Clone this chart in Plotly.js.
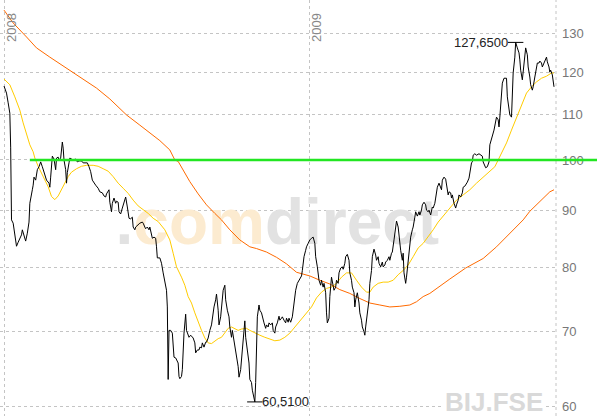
<!DOCTYPE html>
<html><head><meta charset="utf-8">
<script src="https://cdn.plot.ly/plotly-3.0.1.min.js"></script>
<style>html,body{margin:0;padding:0;background:#fff}#chart{width:597px;height:417px}</style>
</head><body><div id="chart"></div>
<script>
// ---- data (day offsets from 2008-01-01, prices) ----
const startDate = '2008-01-01';
const priceDays = [0,3,5,7,8,9,11,13,15,17,19,21,22,24,25,26,28,30,31,32,34,35,36,38,40,42,44,46,47,49,51,54,55,56,57,58,60,62,63,65,66,68,70,71,72,74,75,76,78,79,81,83,86,88,90,93,95,98,100,102,104,106,108,110,113,115,118,120,122,123,126,127,129,130,132,134,135,137,138,140,142,144,146,148,150,152,154,155,157,158,161,163,166,167,169,170,172,174,175,177,178,180,182,183,184,187,
189,191,193,195,196,197,198,200,202,203,204,206,207,209,210,211,213,214,216,218,219,221,222,224,226,227,229,230,232,234,235,237,238,240,242,243,245,246,247,249,250,252,254,255,257,258,260,262,263,265,266,268,270,271,273,274,276,278,279,281,282,284,286,287,289,290,292,294,295,297,298,300,301,302,303,304,306,307,309,310,312,314,315,317,318,320,322,323,325,326,328,330,331,333,334,336,338,339,341,342,344,346,347,349,350,352,354,355,357,358,360,362,363,365,
367,369,371,373,374,376,377,378,380,381,382,383,384,386,387,388,390,391,393,394,396,398,399,401,402,404,406,407,409,410,412,414,415,417,418,420,421,422,424,426,427,429,430,432,433,434,436,438,439,441,442,444,446,447,449,450,452,454,455,457,458,460,462,463,465,466,468,470,471,473,474,476,478,479,480,482,483,485,487,488,490,491,493,494,496,498,499,501,502,504,506,507,509,510,512,514,515,517,518,520,522,523,525,526,528,530,531,533,534,
536,537,538,540,542,543,545,546,548,550,551,553,554,556,558,559,561,562,563,565,567,570,572,574,575,577,578,580,582,583,585,586,588,590,591,593,594,595,597,598,600,602,603,604,606,607,609,610,611,613,614,616,618,619,620,622,623,625,626,628,629,631,632,634,635,637,638,639,640,642,643,645,646,648,650,651,652,654,655,656,658,659,660];
const price = [116.6,114.9,112.6,110.2,102.7,88.3,87.7,85.9,83.6,84.3,85.0,85.6,86.5,85.6,85.2,84.5,85.9,87.9,91.4,92.6,94.0,94.9,96.5,95.9,98.0,98.6,99.6,98.6,98.0,96.9,95.9,95.3,94.5,96.5,99.6,100.8,100.2,98.0,100.4,100.6,100.0,100.4,103.8,102.5,100.0,98.0,95.3,97.4,99.4,100.4,100.2,100.0,100.2,99.6,99.8,99.8,99.4,99.4,99.4,98.6,97.6,95.9,95.3,94.9,94.3,93.6,93.4,92.8,92.6,93.2,94.0,91.6,89.8,91.4,92.4,91.4,91.8,91.6,89.8,89.4,90.5,91.4,92.6,90.7,88.6,88.5,88.8,87.0,86.5,87.0,87.5,87.7,87.9,87.7,87.0,86.7,87.0,86.5,87.0,85.9,85.0,85.2,85.0,83.5,81.6,81.6,
80.7,79.1,77.9,76.3,73.7,63.4,70.2,70.2,69.8,67.4,66.4,66.3,66.0,65.6,63.8,63.5,63.8,64.7,69.8,72.6,70.2,69.5,69.2,69.5,69.2,69.1,68.4,67.0,67.4,67.4,67.8,67.7,68.4,67.8,68.5,68.5,69.1,69.8,70.2,71.0,72.2,73.7,74.8,75.7,73.2,71.0,72.2,74.3,76.3,77.1,74.8,73.2,72.2,70.7,69.2,70.2,68.8,67.4,66.4,65.1,63.7,64.7,67.4,69.2,71.6,69.2,67.4,65.6,63.4,63.0,62.0,61.1,60.51,63.0,67.4,72.2,74.0,73.2,72.8,72.2,71.3,70.5,71.0,70.7,71.3,71.0,71.3,70.2,69.8,70.7,71.3,72.3,71.7,72.0,72.2,71.7,71.3,72.0,71.4,72.0,71.4,72.2,73.2,75.3,76.3,77.4,77.9,78.0,78.6,79.5,81.8,82.9,83.5,84.1,
84.7,85.0,85.2,84.1,81.8,80.1,79.1,77.9,77.1,77.9,77.3,76.8,77.4,75.9,72.8,71.3,72.0,75.3,78.4,77.4,76.3,76.8,77.9,77.4,79.1,79.9,80.1,79.7,80.7,81.8,82.2,81.2,79.1,77.9,76.8,75.9,73.7,74.8,75.9,74.3,72.8,71.7,70.7,70.0,69.5,70.7,72.8,74.8,77.4,79.5,81.8,83.1,82.1,81.2,81.8,80.7,80.1,80.9,80.1,80.4,80.9,81.2,81.8,81.2,82.4,82.6,84.7,87.0,88.1,87.0,85.2,82.9,81.2,82.4,79.1,77.4,78.4,80.7,82.9,85.2,86.5,87.0,88.8,89.8,89.0,89.8,89.2,90.1,91.1,91.6,91.1,90.1,89.8,90.1,89.2,90.7,90.5,91.4,92.4,94.5,95.3,94.9,94.0,95.9,96.5,96.1,95.3,93.0,93.6,
93.4,92.4,93.0,91.4,90.5,91.1,92.0,93.0,92.6,93.4,94.5,94.7,94.9,95.5,96.3,97.4,99.4,99.6,101.0,101.3,101.0,101.3,101.0,100.8,99.6,98.8,98.4,98.6,99.6,103.2,104.9,105.1,106.4,109.1,109.3,108.7,107.1,109.3,114.0,117.3,118.5,118.5,118.5,114.0,110.2,109.8,109.3,114.0,119.8,123.8,127.65,126.2,124.9,123.1,120.5,118.1,120.5,123.6,126.2,124.4,121.3,118.8,116.9,115.6,116.4,118.8,119.8,120.5,122.3,122.3,122.8,122.3,121.3,122.3,123.1,123.8,122.6,121.3,120.0,120.5,119.3,116.9,116.4];

const maShortDays = [0,7,13,19,23,27,31,35,37,41,47,53,57,61,65,69,73,77,81,87,93,99,107,113,119,125,131,137,143,149,155,161,167,173,179,185,193,199,203,207,213,217,221,225,229,233,237,241,245,249,253,257,261,265,269,273,277,281,285,291,295,301,307,313,319,325,331,337,343,349,355,361,369,375,381,387,393,399,405,411,417,423,429,435,439,443,449,455,461,467,473,479,485,491,497,503,509,515,521,527,535,543,551,559,567,575,583,589,593,597,603,609,615,621,627,633,639,645,651,657,660];
const maShort = [118.3,116.9,114.0,110.9,108.0,105.8,103.2,101.7,100.4,98.7,96.6,94.6,92.7,92.1,92.8,94.0,95.3,96.6,97.5,98.2,98.7,98.9,98.9,98.7,98.2,97.7,96.6,95.3,94.3,93.3,92.0,90.9,90.2,89.5,88.6,88.0,86.5,84.7,82.4,80.1,78.4,77.1,75.3,74.3,72.8,71.4,70.2,69.1,68.4,68.3,68.7,69.0,69.2,69.8,70.5,70.7,70.5,70.2,70.4,70.5,70.2,69.8,69.5,69.2,69.0,68.7,68.8,69.2,69.8,70.7,71.7,72.5,73.7,75.1,76.0,76.6,76.8,77.4,78.4,79.1,79.1,77.9,76.8,76.0,76.0,76.8,77.4,77.6,77.6,77.9,78.8,79.5,80.4,81.8,83.3,84.1,85.2,86.5,87.9,89.0,90.7,92.0,93.0,94.0,95.3,96.5,97.6,98.6,100.0,101.5,103.6,106.4,109.3,112.1,114.9,116.4,117.6,118.5,119.0,119.8,119.8];

const maLongDays = [0,11,27,39,55,75,91,111,127,147,163,175,187,199,205,209,215,223,233,243,253,261,271,283,295,303,315,327,339,351,359,367,379,391,403,415,427,439,451,463,475,487,495,503,511,519,527,535,554,575,591,607,623,631,643,655,660];
const maLong = [136.5,132.9,129.1,126.2,123.8,121.0,118.8,116.1,113.5,109.8,107.5,105.8,104.1,102.1,100.0,99.7,98.0,95.6,93.2,91.1,89.5,88.3,86.5,84.7,83.5,83.2,82.6,81.7,80.6,79.2,78.9,78.6,77.9,77.3,76.4,75.8,75.0,74.3,74.0,73.7,73.8,74.0,74.5,75.3,75.8,76.6,77.4,78.1,79.9,81.5,83.5,85.9,88.3,89.9,91.7,93.6,94.0];

const refLevel = 100;
const refStart = '2008-02-01';
const yTicks = [60,70,80,90,100,110,120,130];
const yearTicks = ['2008-01-01','2009-01-01'];
const yearLabels = ['2008','2009'];
const symbolName = 'BIJ.FSE';
const watermarkDate = '2008-11-24';
const watermarkLevel = 86.9;

// ---- helpers ----
const DAY = 86400000;
const t0 = Date.parse(startDate + 'T00:00:00Z');
const toDate = d => new Date(t0 + d * DAY).toISOString().slice(0, 10);
const fmt = v => v.toFixed(4).replace('.', ',');

const xRange = ['2007-12-27 04:48', '2009-10-24 09:36'];
const yRange = [1.76913, 2.14425];

const px = priceDays.map(toDate);
let iMax = 0, iMin = 0;
price.forEach((v, i) => { if (v > price[iMax]) iMax = i; if (v < price[iMin]) iMin = i; });

const traces = [
  { x: [watermarkDate], y: [watermarkLevel], mode: 'text', hoverinfo: 'skip',
    text: ['<span style="color:#e2e2e2">.</span><span style="color:#fcebd0">com</span><span style="color:#e2e2e2">direct</span>'],
    textposition: 'middle center',
    textfont: { family: 'Liberation Sans, Arial, sans-serif', size: 64, color: '#e2e2e2', weight: 'bold' } },
  { x: maLongDays.map(toDate), y: maLong, mode: 'lines', line: { color: '#ff6a00', width: 1 }, hoverinfo: 'skip' },
  { x: maShortDays.map(toDate), y: maShort, mode: 'lines', line: { color: '#ffcc00', width: 1 }, hoverinfo: 'skip' },
  { x: px, y: price, mode: 'lines', line: { color: '#000', width: 1 }, hoverinfo: 'skip' },
  { x: [px[iMax], px[iMin]], y: [price[iMax], price[iMin]], mode: 'markers', hoverinfo: 'skip',
    marker: { symbol: 'line-ew-open', size: 11, color: '#000', line: { color: '#000', width: 1 } } }
];

const r0 = Date.parse(xRange[0].replace(' ', 'T') + 'Z'), r1 = Date.parse(xRange[1].replace(' ', 'T') + 'Z');
const refX0 = (Date.parse(refStart + 'T00:00:00Z') - r0) / (r1 - r0);

const gridCol = '#c4c4c4';
const layout = {
  width: 597, height: 417,
  margin: { l: 0, r: 41, t: 0, b: 1 },
  paper_bgcolor: '#fff', plot_bgcolor: '#fff',
  showlegend: false,
  font: { family: 'Liberation Sans, Arial, sans-serif' },
  xaxis: { type: 'date', range: xRange, tickvals: yearTicks, showticklabels: false,
    showgrid: true, gridcolor: gridCol, griddash: 'dot', gridwidth: 1,
    zeroline: false, showline: false, ticks: '', fixedrange: true },
  yaxis: { type: 'log', side: 'right', range: yRange, tickvals: yTicks, ticktext: yTicks.map(String),
    tickfont: { size: 13, color: '#777' }, showgrid: true, gridcolor: gridCol, griddash: 'dot',
    gridwidth: 1, zeroline: false, showline: false, ticks: '', ticklabelstandoff: 5, fixedrange: true },
  shapes: [
    { type: 'line', xref: 'paper', yref: 'paper', x0: 1, x1: 1, y0: 0, y1: 1,
      line: { color: gridCol, width: 1, dash: 'dot' } },
    { type: 'line', xref: 'paper', yref: 'y', x0: refX0, x1: 597 / 556,
      y0: refLevel, y1: refLevel,
      line: { color: '#22e622', width: 2.5 } }
  ],
  annotations: [
    { x: px[iMax], y: Math.log10(price[iMax]), xref: 'x', yref: 'y', text: fmt(price[iMax]),
      showarrow: false, xanchor: 'right', yanchor: 'middle', xshift: -6,
      font: { size: 13, color: '#222' } },
    { x: px[iMin], y: Math.log10(price[iMin]), xref: 'x', yref: 'y', text: fmt(price[iMin]),
      showarrow: false, xanchor: 'left', yanchor: 'middle', xshift: 5,
      font: { size: 13, color: '#222' } },
    ...yearTicks.map((d, i) => ({ x: d, y: 1, xref: 'x', yref: 'paper', text: yearLabels[i],
      showarrow: false, textangle: -90, xanchor: 'left', yanchor: 'top', xshift: -2, yshift: -11,
      font: { size: 13, color: '#888' } })),
    { x: 545 / 556, y: 0.0325, xref: 'paper', yref: 'paper', text: '<b>' + symbolName + '</b>',
      showarrow: false, xanchor: 'right', yanchor: 'middle', bgcolor: '#fff',
      font: { size: 26, color: '#d9d9d9' } }
  ]
};

Plotly.newPlot('chart', traces, layout, { displayModeBar: false, staticPlot: true });
</script></body></html>
